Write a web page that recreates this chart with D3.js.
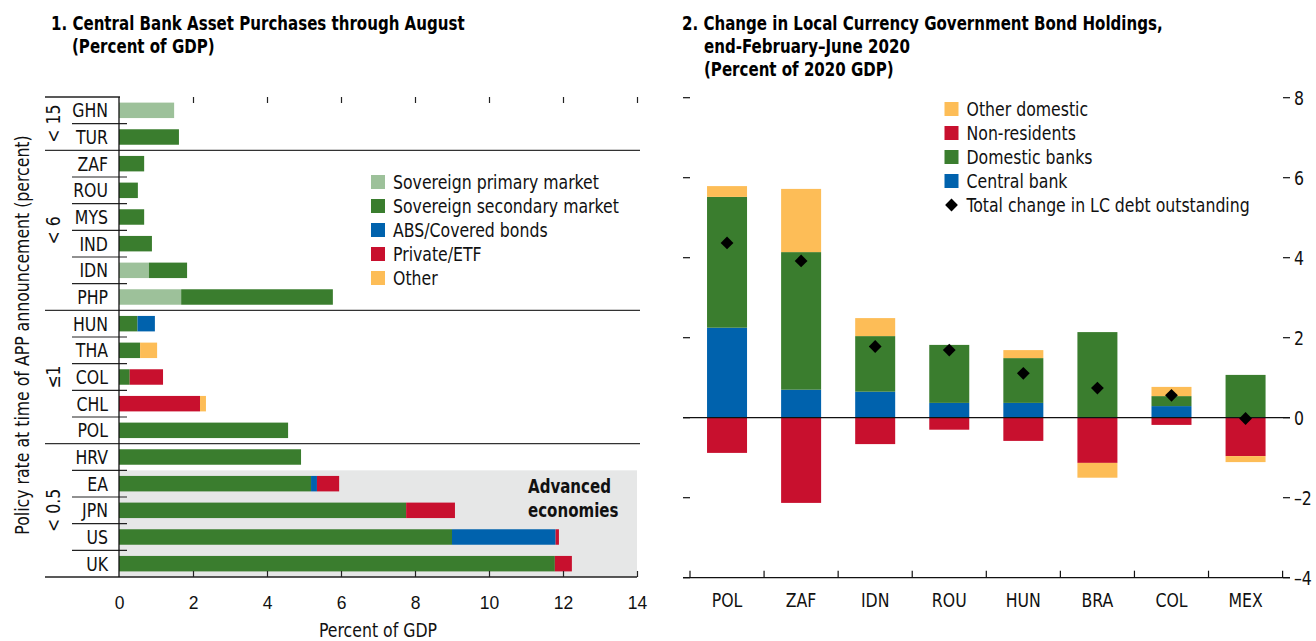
<!DOCTYPE html>
<html>
<head>
<meta charset="utf-8">
<script src="https://cdn.jsdelivr.net/npm/d3@7"></script>
<style>
  body { margin: 0; background: #fff; }
  svg { display: block; font-family: "Liberation Sans Narrow", "DejaVu Sans Condensed", "Arial Narrow", sans-serif; }
  .title { font-weight: bold; font-size: 19px; }
  .lbl { font-size: 19px; fill: #111; }
</style>
</head>
<body>
<svg id="chart" width="1316" height="641"></svg>
<script>
// ---- Panel 1 data: central bank asset purchases (percent of GDP)
const countries1 = ['GHN', 'TUR', 'ZAF', 'ROU', 'MYS', 'IND', 'IDN', 'PHP', 'HUN', 'THA', 'COL', 'CHL', 'POL', 'HRV', 'EA', 'JPN', 'US', 'UK'];
const sovPrimary   = [1.49, 0, 0, 0, 0, 0, 0.81, 1.68, 0, 0, 0, 0, 0, 0, 0, 0, 0, 0];
const sovSecondary = [0, 1.62, 0.68, 0.51, 0.68, 0.89, 1.03, 4.10, 0.50, 0.57, 0.29, 0, 4.57, 4.92, 5.19, 7.76, 9.00, 11.78];
const absCovered   = [0, 0, 0, 0, 0, 0, 0, 0, 0.47, 0, 0, 0, 0, 0, 0.16, 0, 2.80, 0];
const privateEtf   = [0, 0, 0, 0, 0, 0, 0, 0, 0, 0, 0.90, 2.19, 0, 0, 0.60, 1.32, 0.09, 0.46];
const otherApp     = [0, 0, 0, 0, 0, 0, 0, 0, 0, 0.46, 0, 0.16, 0, 0, 0, 0, 0, 0];
const series1 = ['Sovereign primary market', 'Sovereign secondary market', 'ABS/Covered bonds', 'Private/ETF', 'Other'];
const colors1 = ['#9dc19a', '#3a7d2e', '#0062ad', '#c8102e', '#fdbd57'];
// policy-rate groups: label and number of countries in each
const groupLabels = ['< 15', '< 6', '≤1', '< 0.5'];
const groupSizes = [2, 6, 5, 5];
const advancedStart = 'EA';
const xTicks1 = [0, 2, 4, 6, 8, 10, 12, 14];

// ---- Panel 2 data: change in LC government bond holdings (percent of 2020 GDP)
const countries2 = ['POL', 'ZAF', 'IDN', 'ROU', 'HUN', 'BRA', 'COL', 'MEX'];
const centralBank   = [2.25, 0.70, 0.65, 0.37, 0.37, 0, 0.29, 0];
const domesticBanks = [3.27, 3.44, 1.39, 1.45, 1.12, 2.14, 0.25, 1.07];
const nonResidents  = [-0.88, -2.13, -0.66, -0.30, -0.58, -1.13, -0.18, -0.96];
const otherDomestic = [0.27, 1.58, 0.45, 0, 0.20, -0.37, 0.23, -0.15];
const totalChange   = [4.37, 3.92, 1.78, 1.69, 1.11, 0.74, 0.56, -0.02];
const series2 = ['Central bank', 'Domestic banks', 'Non-residents', 'Other domestic'];
const colors2 = ['#0062ad', '#3a7d2e', '#c8102e', '#fdbd57'];
const legend2 = ['Other domestic', 'Non-residents', 'Domestic banks', 'Central bank'];
const yTicks2 = [-4, -2, 0, 2, 4, 6, 8];

const svg = d3.select('#chart');

// ================= Panel 1 =================
const x1 = d3.scaleLinear().domain([0, 14]).range([119, 637]);
const y1 = d3.scaleBand().domain(countries1).range([97, 577]).paddingInner(0.42).paddingOuter(0.21);
const step = y1.step();

svg.append('text').attr('class', 'title').attr('x', 51).attr('y', 30).text('1. Central Bank Asset Purchases through August');
svg.append('text').attr('class', 'title').attr('x', 72).attr('y', 53).text('(Percent of GDP)');

// advanced economies shading
const advTop = y1(advancedStart) - y1.paddingInner() * step / 2;
svg.append('rect').attr('x', x1(0)).attr('y', advTop).attr('width', x1(14) - x1(0)).attr('height', 577 - advTop).attr('fill', '#e6e7e7');
svg.append('text').attr('class', 'lbl title').attr('x', 528).attr('y', 493).text('Advanced');
svg.append('text').attr('class', 'lbl title').attr('x', 528).attr('y', 517).text('economies');

const rows1 = countries1.map((c, i) => ({
  country: c, s0: sovPrimary[i], s1: sovSecondary[i], s2: absCovered[i], s3: privateEtf[i], s4: otherApp[i]
}));
const stack1 = d3.stack().keys(['s0', 's1', 's2', 's3', 's4'])(rows1);
svg.append('g').selectAll('g').data(stack1).join('g')
  .attr('fill', (d, i) => colors1[i])
  .selectAll('rect').data(d => d).join('rect')
  .attr('x', d => x1(d[0]))
  .attr('width', d => x1(d[1]) - x1(d[0]))
  .attr('y', d => y1(d.data.country))
  .attr('height', y1.bandwidth());

// row separators (short) and group separators (full)
let idx = 0;
const groupBounds = [];
groupSizes.forEach(n => { groupBounds.push([idx, idx + n]); idx += n; });
const boundaryY = i => 97 + i * step;
countries1.forEach((c, i) => {
  if (i === 0) return;
  const isGroup = groupBounds.some(b => b[0] === i);
  if (isGroup) {
    svg.append('line').attr('x1', 45).attr('x2', 640).attr('y1', boundaryY(i)).attr('y2', boundaryY(i))
      .attr('stroke', '#333').attr('stroke-width', 1.3);
  } else {
    svg.append('line').attr('x1', 72).attr('x2', 127).attr('y1', boundaryY(i)).attr('y2', boundaryY(i))
      .attr('stroke', '#222').attr('stroke-width', 1.2);
  }
});
svg.append('line').attr('x1', 45).attr('x2', 120).attr('y1', 97).attr('y2', 97).attr('stroke', '#222').attr('stroke-width', 1.3);
svg.append('line').attr('x1', 45).attr('x2', 637).attr('y1', 577).attr('y2', 577).attr('stroke', '#222').attr('stroke-width', 1.3);
svg.append('line').attr('x1', 119).attr('x2', 119).attr('y1', 97).attr('y2', 577).attr('stroke', '#111').attr('stroke-width', 1.3);

// country labels
svg.append('g').selectAll('text').data(countries1).join('text')
  .attr('class', 'lbl').attr('text-anchor', 'end')
  .attr('x', 108).attr('y', d => y1(d) + y1.bandwidth() / 2).attr('dy', '0.36em')
  .text(d => d);

// group labels (rotated)
groupBounds.forEach((b, i) => {
  const cy = (boundaryY(b[0]) + boundaryY(b[1])) / 2;
  svg.append('text').attr('class', 'lbl').attr('text-anchor', 'middle')
    .attr('transform', `translate(53,${cy}) rotate(-90)`).attr('dy', '0.36em')
    .text(groupLabels[i]);
});
svg.append('text').attr('class', 'lbl').attr('text-anchor', 'middle')
  .attr('transform', 'translate(22,335) rotate(-90)').attr('dy', '0.36em')
  .text('Policy rate at time of APP announcement (percent)');

// x axes (ticks inside, top and bottom)
const bottom1 = svg.append('g').attr('transform', 'translate(0,577)')
  .call(d3.axisBottom(x1).tickValues(xTicks1).tickSizeInner(-6).tickSizeOuter(0).tickPadding(19));
bottom1.select('.domain').remove();
bottom1.selectAll('.tick line').filter(d => d === 0).remove();
bottom1.selectAll('text').attr('class', 'lbl').attr('font-family', null).attr('font-size', null);
const top1 = svg.append('g').attr('transform', 'translate(0,97)')
  .call(d3.axisTop(x1).tickValues(xTicks1.slice(1)).tickSizeInner(-6).tickSizeOuter(0).tickFormat(''));
top1.select('.domain').remove();
svg.selectAll('.tick line').attr('stroke', '#222').attr('stroke-width', 1.2);
svg.append('text').attr('class', 'lbl').attr('text-anchor', 'middle').attr('x', x1(7)).attr('y', 637).text('Percent of GDP');

// legend 1
const leg1 = svg.append('g').selectAll('g').data(series1).join('g')
  .attr('transform', (d, i) => `translate(371,${182 + i * 24})`);
leg1.append('rect').attr('y', -7).attr('width', 14).attr('height', 14).attr('fill', (d, i) => colors1[i]);
leg1.append('text').attr('class', 'lbl').attr('x', 22).attr('dy', '0.36em').text(d => d);

// ================= Panel 2 =================
const x2 = d3.scaleBand().domain(countries2).range([690, 1282.6]).paddingInner(0.46).paddingOuter(0.23);
const y2 = d3.scaleLinear().domain([-4, 8]).range([577.7, 97.7]);

svg.append('text').attr('class', 'title').attr('x', 682).attr('y', 30).text('2. Change in Local Currency Government Bond Holdings,');
svg.append('text').attr('class', 'title').attr('x', 704).attr('y', 53).text('end-February–June 2020');
svg.append('text').attr('class', 'title').attr('x', 704).attr('y', 76).text('(Percent of 2020 GDP)');

const rows2 = countries2.map((c, i) => ({
  country: c, cb: centralBank[i], db: domesticBanks[i], nr: nonResidents[i], od: otherDomestic[i]
}));
const stack2 = d3.stack().keys(['cb', 'db', 'nr', 'od']).offset(d3.stackOffsetDiverging)(rows2);
svg.append('g').selectAll('g').data(stack2).join('g')
  .attr('fill', (d, i) => colors2[i])
  .selectAll('rect').data(d => d).join('rect')
  .attr('x', d => x2(d.data.country))
  .attr('width', x2.bandwidth())
  .attr('y', d => y2(Math.max(d[0], d[1])))
  .attr('height', d => Math.abs(y2(d[0]) - y2(d[1])));

// zero line and bottom axis
svg.append('line').attr('x1', 683).attr('x2', 1290).attr('y1', y2(0)).attr('y2', y2(0)).attr('stroke', '#111').attr('stroke-width', 1.3);
svg.append('line').attr('x1', 683).attr('x2', 1290).attr('y1', y2(-4)).attr('y2', y2(-4)).attr('stroke', '#111').attr('stroke-width', 1.3);
const bounds2 = countries2.map(c => x2(c) - x2.paddingInner() * x2.step() / 2).concat([1282.6]);
svg.append('g').selectAll('line').data(bounds2).join('line')
  .attr('x1', d => d).attr('x2', d => d).attr('y1', y2(-4)).attr('y2', y2(-4) - 7)
  .attr('stroke', '#111').attr('stroke-width', 1.2);
svg.append('g').selectAll('text').data(countries2).join('text')
  .attr('class', 'lbl').attr('text-anchor', 'middle')
  .attr('x', d => x2(d) + x2.bandwidth() / 2).attr('y', 600).attr('dy', '0.36em')
  .text(d => d);

// y ticks both sides, labels right
svg.append('g').selectAll('line').data(yTicks2).join('line')
  .attr('x1', 683).attr('x2', 690).attr('y1', d => y2(d)).attr('y2', d => y2(d))
  .attr('stroke', '#111').attr('stroke-width', 1.2);
svg.append('g').selectAll('line').data(yTicks2).join('line')
  .attr('x1', 1283).attr('x2', 1290).attr('y1', d => y2(d)).attr('y2', d => y2(d))
  .attr('stroke', '#111').attr('stroke-width', 1.2);
svg.append('g').selectAll('text').data(yTicks2).join('text')
  .attr('class', 'lbl').attr('x', 1294).attr('y', d => y2(d)).attr('dy', '0.36em')
  .text(d => d < 0 ? '–' + Math.abs(d) : d);

// total change diamonds
const diamond = d3.symbol(d3.symbolSquare, 82);
svg.append('g').selectAll('path').data(countries2).join('path')
  .attr('d', diamond)
  .attr('transform', (d, i) => `translate(${x2(d) + x2.bandwidth() / 2},${y2(totalChange[i])}) rotate(45)`)
  .attr('fill', '#000');

// legend 2
const leg2 = svg.append('g').selectAll('g').data(legend2).join('g')
  .attr('transform', (d, i) => `translate(944.5,${109 + i * 24})`);
leg2.append('rect').attr('y', -7).attr('width', 14).attr('height', 14)
  .attr('fill', d => colors2[series2.indexOf(d)]);
leg2.append('text').attr('class', 'lbl').attr('x', 22).attr('dy', '0.36em').text(d => d);
const legD = svg.append('g').attr('transform', `translate(944.5,${109 + 4 * 24})`);
legD.append('path').attr('d', diamond).attr('transform', 'translate(7,0) rotate(45)').attr('fill', '#000');
legD.append('text').attr('class', 'lbl').attr('x', 22).attr('dy', '0.36em').text('Total change in LC debt outstanding');

// the fallback font is wider than the condensed face of the original: narrow the glyphs
svg.selectAll('text').each(function () {
  const bold = this.classList.contains('title');
  const len = this.getComputedTextLength();
  this.setAttribute('textLength', len * (bold ? 0.88 : 0.92));
  this.setAttribute('lengthAdjust', 'spacingAndGlyphs');
});
</script>
</body>
</html>
